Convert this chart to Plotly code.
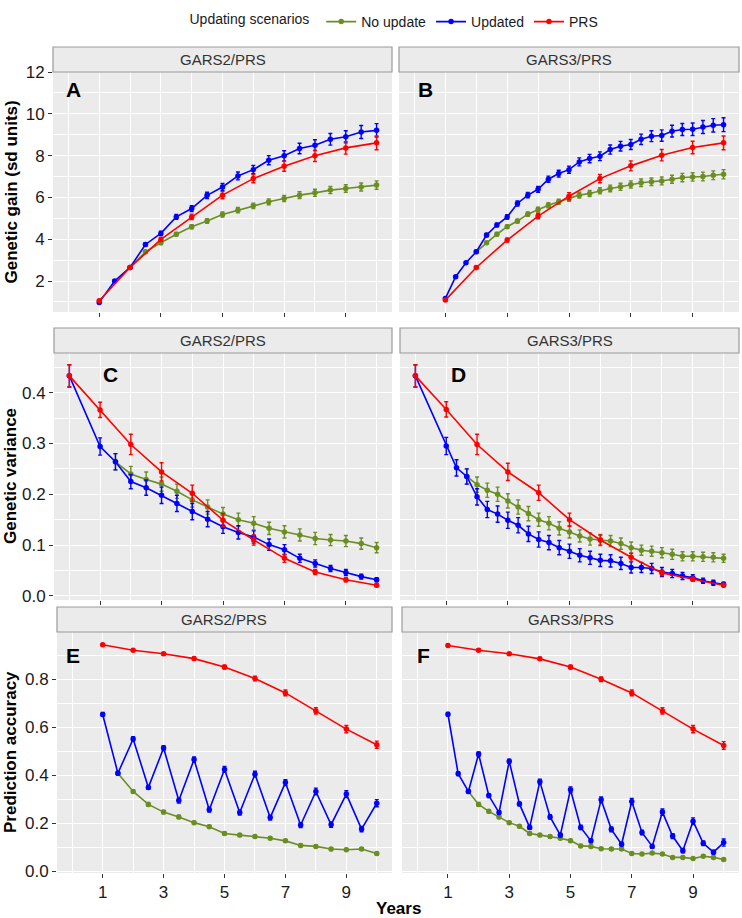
import plotly.graph_objects as go

W, H = 742, 918

# ---------------- data ----------------
YEARS = [1, 2, 3, 4, 5, 6, 7, 8, 9, 10]
YEARS0 = [0, 1, 2, 3, 4, 5, 6, 7, 8, 9, 10]
HALF = [1, 1.5, 2, 2.5, 3, 3.5, 4, 4.5, 5, 5.5, 6, 6.5, 7, 7.5, 8, 8.5, 9, 9.5, 10]
HALF0 = [0] + HALF
THIRD = [1, 1.333, 1.667, 2, 2.333, 2.667, 3, 3.333, 3.667, 4, 4.333, 4.667, 5, 5.333, 5.667,
         6, 6.333, 6.667, 7, 7.333, 7.667, 8, 8.333, 8.667, 9, 9.333, 9.667, 10]
THIRD0 = [0] + THIRD

# Panel A: GARS2/PRS genetic gain
A_upd = [0.98, 2.0, 2.65, 3.75, 4.28, 5.07, 5.47, 6.1, 6.5, 7.03, 7.33, 7.78, 7.99, 8.34, 8.5, 8.78, 8.9, 9.13, 9.21]
A_upd_err = [0.04, 0.05, 0.06, 0.08, 0.1, 0.12, 0.14, 0.15, 0.17, 0.19, 0.2, 0.22, 0.24, 0.25, 0.26, 0.28, 0.29, 0.31, 0.32]
A_no_x = HALF[2:]
A_no = [2.65, 3.4, 3.83, 4.24, 4.6, 4.87, 5.18, 5.39, 5.6, 5.79, 5.95, 6.11, 6.22, 6.35, 6.43, 6.5, 6.59]
A_no_err = [0.06, 0.07, 0.08, 0.09, 0.1, 0.11, 0.12, 0.13, 0.13, 0.14, 0.15, 0.16, 0.17, 0.17, 0.18, 0.19, 0.2]
A_prs = [1.06, 2.65, 3.99, 5.07, 6.11, 6.9, 7.49, 7.99, 8.37, 8.61]
A_prs_err = [0.04, 0.06, 0.09, 0.13, 0.17, 0.2, 0.24, 0.27, 0.3, 0.33]

# Panel B: GARS3/PRS genetic gain
B_upd = [1.17, 2.21, 2.88, 3.40, 4.20, 4.68, 5.07, 5.71, 6.11, 6.39, 6.87, 7.14, 7.33, 7.70, 7.86, 7.97,
         8.29, 8.45, 8.53, 8.78, 8.93, 8.96, 9.17, 9.25, 9.26, 9.37, 9.45, 9.48]
B_upd_err = [0.04, 0.05, 0.05, 0.06, 0.08, 0.09, 0.1, 0.12, 0.13, 0.14, 0.15, 0.16, 0.17, 0.19, 0.2, 0.21,
             0.22, 0.23, 0.24, 0.25, 0.26, 0.27, 0.28, 0.29, 0.3, 0.31, 0.32, 0.33]
B_no_x = THIRD[3:]
B_no = [3.40, 3.83, 4.24, 4.6, 4.87, 5.2, 5.42, 5.63, 5.79, 5.95, 6.11, 6.19, 6.32, 6.43, 6.51, 6.62,
        6.70, 6.75, 6.79, 6.87, 6.95, 6.98, 7.0, 7.06, 7.11]
B_no_err = [0.06, 0.07, 0.08, 0.08, 0.09, 0.1, 0.11, 0.12, 0.12, 0.13, 0.14, 0.15, 0.15, 0.16, 0.17, 0.17,
            0.18, 0.18, 0.19, 0.19, 0.2, 0.2, 0.21, 0.21, 0.22]
B_prs = [1.09, 2.65, 3.96, 5.11, 6.06, 6.9, 7.51, 8.02, 8.39, 8.61]
B_prs_err = [0.04, 0.06, 0.09, 0.13, 0.17, 0.2, 0.24, 0.27, 0.3, 0.33]

# Panel C: GARS2/PRS genetic variance
C_prs = [0.433, 0.366, 0.298, 0.244, 0.202, 0.149, 0.110, 0.074, 0.047, 0.032, 0.021]
C_prs_err = [0.022, 0.015, 0.02, 0.018, 0.016, 0.013, 0.01, 0.008, 0.005, 0.004, 0.003]
C_upd = [0.433, 0.294, 0.264, 0.225, 0.213, 0.198, 0.182, 0.166, 0.151, 0.136, 0.125, 0.116, 0.101, 0.091,
         0.074, 0.064, 0.054, 0.046, 0.038, 0.032]
C_upd_err = [0.022, 0.017, 0.016, 0.014, 0.015, 0.016, 0.016, 0.016, 0.015, 0.013, 0.013, 0.012, 0.011, 0.01,
             0.008, 0.007, 0.006, 0.006, 0.005, 0.004]
C_no_x = HALF[1:]
C_no = [0.264, 0.240, 0.229, 0.220, 0.206, 0.189, 0.175, 0.161, 0.150, 0.143, 0.133, 0.126, 0.120, 0.113,
        0.110, 0.108, 0.103, 0.095]
C_no_err = [0.016, 0.015, 0.015, 0.014, 0.014, 0.014, 0.014, 0.013, 0.013, 0.013, 0.012, 0.012, 0.012, 0.012,
            0.011, 0.011, 0.011, 0.01]

# Panel D: GARS3/PRS genetic variance
D_prs = [0.433, 0.367, 0.298, 0.244, 0.203, 0.150, 0.110, 0.076, 0.045, 0.033, 0.021]
D_prs_err = [0.022, 0.015, 0.02, 0.017, 0.015, 0.013, 0.01, 0.008, 0.005, 0.004, 0.003]
D_upd = [0.433, 0.295, 0.252, 0.235, 0.195, 0.170, 0.161, 0.149, 0.139, 0.122, 0.111, 0.105, 0.095, 0.088,
         0.080, 0.075, 0.070, 0.069, 0.064, 0.056, 0.056, 0.054, 0.047, 0.044, 0.039, 0.036, 0.030, 0.026, 0.023]
D_upd_err = [0.022, 0.017, 0.016, 0.015, 0.016, 0.016, 0.016, 0.016, 0.015, 0.015, 0.015, 0.014, 0.014, 0.014,
             0.013, 0.013, 0.012, 0.012, 0.012, 0.011, 0.01, 0.01, 0.009, 0.008, 0.007, 0.006, 0.005, 0.005, 0.004]
D_no_x = THIRD[2:]
D_no = [0.235, 0.219, 0.208, 0.200, 0.187, 0.175, 0.162, 0.150, 0.143, 0.133, 0.126, 0.118, 0.112, 0.110,
        0.108, 0.103, 0.095, 0.090, 0.088, 0.085, 0.082, 0.078, 0.078, 0.077, 0.076, 0.074]
D_no_err = [0.015, 0.015, 0.014, 0.014, 0.014, 0.014, 0.014, 0.013, 0.013, 0.013, 0.012, 0.012, 0.012, 0.011,
            0.011, 0.011, 0.011, 0.01, 0.01, 0.01, 0.01, 0.009, 0.009, 0.009, 0.009, 0.008]

# Panel E: GARS2/PRS prediction accuracy
E_prs = [0.944, 0.921, 0.906, 0.886, 0.851, 0.803, 0.743, 0.668, 0.592, 0.527]
E_prs_err = [0.004, 0.005, 0.005, 0.006, 0.008, 0.01, 0.012, 0.013, 0.015, 0.015]
E_upd = [0.653, 0.408, 0.551, 0.349, 0.513, 0.294, 0.465, 0.256, 0.424, 0.244, 0.404, 0.223, 0.369, 0.192,
         0.332, 0.194, 0.321, 0.175, 0.283]
E_upd_err = [0.008, 0.007, 0.009, 0.008, 0.01, 0.01, 0.011, 0.01, 0.012, 0.01, 0.012, 0.01, 0.012, 0.01,
             0.014, 0.011, 0.014, 0.011, 0.015]
E_no_x = HALF[1:]
E_no = [0.408, 0.332, 0.278, 0.246, 0.226, 0.202, 0.185, 0.157, 0.150, 0.144, 0.137, 0.126, 0.107, 0.103,
        0.092, 0.089, 0.092, 0.073]
E_no_err = [0.007, 0.007, 0.008, 0.007, 0.007, 0.006, 0.006, 0.006, 0.006, 0.006, 0.006, 0.006, 0.006, 0.005,
            0.006, 0.005, 0.005, 0.006]

# Panel F: GARS3/PRS prediction accuracy
F_prs = [0.941, 0.921, 0.906, 0.885, 0.851, 0.800, 0.743, 0.668, 0.592, 0.524]
F_prs_err = [0.004, 0.005, 0.005, 0.006, 0.008, 0.01, 0.012, 0.013, 0.015, 0.016]
F_upd = [0.654, 0.406, 0.332, 0.488, 0.315, 0.244, 0.458, 0.280, 0.182, 0.373, 0.226, 0.150, 0.339, 0.182,
         0.126, 0.297, 0.174, 0.112, 0.290, 0.161, 0.103, 0.246, 0.146, 0.085, 0.208, 0.116, 0.079, 0.119]
F_upd_err = [0.008, 0.008, 0.007, 0.009, 0.008, 0.007, 0.009, 0.008, 0.008, 0.01, 0.009, 0.008, 0.012, 0.009,
             0.008, 0.012, 0.01, 0.008, 0.013, 0.01, 0.008, 0.013, 0.01, 0.009, 0.014, 0.01, 0.008, 0.015]
F_no_x = THIRD[2:]
F_no = [0.332, 0.278, 0.249, 0.226, 0.202, 0.187, 0.157, 0.150, 0.144, 0.137, 0.127, 0.105, 0.103, 0.093,
        0.092, 0.092, 0.073, 0.071, 0.075, 0.071, 0.057, 0.057, 0.052, 0.062, 0.057, 0.048]
F_no_err = [0.007, 0.008, 0.007, 0.007, 0.006, 0.006, 0.006, 0.006, 0.006, 0.006, 0.006, 0.006, 0.006, 0.005,
            0.005, 0.005, 0.005, 0.005, 0.005, 0.005, 0.005, 0.005, 0.005, 0.005, 0.005, 0.005]

SCENARIOS = ["No update", "Updated", "PRS"]
COLORS = {"No update": "#6B8E23", "Updated": "#0000FF", "PRS": "#FF0000"}
STRIPS = ["GARS2/PRS", "GARS3/PRS"]
LETTERS = ["A", "B", "C", "D", "E", "F"]
YTITLES = ["Genetic gain (sd units)", "Genetic variance", "Prediction accuracy"]
XTITLE = "Years"
XTICKS = [1, 3, 5, 7, 9]

panels = [
    [(A_no_x, A_no, A_no_err), (HALF, A_upd, A_upd_err), (YEARS, A_prs, A_prs_err)],
    [(B_no_x, B_no, B_no_err), (THIRD, B_upd, B_upd_err), (YEARS, B_prs, B_prs_err)],
    [(C_no_x, C_no, C_no_err), (HALF0, C_upd, C_upd_err), (YEARS0, C_prs, C_prs_err)],
    [(D_no_x, D_no, D_no_err), (THIRD0, D_upd, D_upd_err), (YEARS0, D_prs, D_prs_err)],
    [(E_no_x, E_no, E_no_err), (HALF, E_upd, E_upd_err), (YEARS, E_prs, E_prs_err)],
    [(F_no_x, F_no, F_no_err), (THIRD, F_upd, F_upd_err), (YEARS, F_prs, F_prs_err)],
]

# ---------------- layout geometry (pixels) ----------------
rows_y = [(72, 312), (353, 600), (632, 873)]
strip_y = [(47, 72), (328, 353), (607, 632)]
cols_x = [[(53, 392), (399, 739)], [(54, 392), (400, 739)], [(57, 392), (402, 739)]]
yranges = [[0.52, 12.0], [-0.008, 0.478], [-0.008, 0.997]]
yticks = [
    ([2, 4, 6, 8, 10, 12], ["2", "4", "6", "8", "10", "12"], [1, 3, 5, 7, 9, 11]),
    ([0, 0.1, 0.2, 0.3, 0.4], ["0.0", "0.1", "0.2", "0.3", "0.4"], [0.05, 0.15, 0.25, 0.35, 0.45]),
    ([0, 0.2, 0.4, 0.6, 0.8], ["0.0", "0.2", "0.4", "0.6", "0.8"], [0.1, 0.3, 0.5, 0.7, 0.9]),
]

FONT = "Liberation Sans, Arial, Helvetica, sans-serif"
fig = go.Figure()
layout = dict(
    width=W, height=H, margin=dict(l=0, r=0, t=0, b=0),
    paper_bgcolor="white", plot_bgcolor="#EBEBEB",
    font=dict(family=FONT, color="#1a1a1a"),
    showlegend=True,
    legend=dict(orientation="h", x=0.533, xanchor="center", y=1 - 6 / H, yanchor="top",
                title=dict(text="Updating scenarios ", side="left", font=dict(size=14)),
                font=dict(size=14), itemwidth=30, bgcolor="rgba(0,0,0,0)",
                tracegroupgap=0, entrywidth=0),
)
shapes, annotations = [], []

for i in range(6):
    r, c = divmod(i, 2)
    n = i + 1
    xname = "xaxis" if n == 1 else f"xaxis{n}"
    yname = "yaxis" if n == 1 else f"yaxis{n}"
    xref = "x" if n == 1 else f"x{n}"
    yref = "y" if n == 1 else f"y{n}"
    x0, x1 = cols_x[r][c]
    y0, y1 = rows_y[r]
    layout[xname] = dict(
        domain=[x0 / W, x1 / W], anchor=yref, range=[-0.5, 10.5],
        tickmode="array", tickvals=XTICKS, ticktext=[str(t) for t in XTICKS],
        showticklabels=(r == 2), ticks="outside", ticklen=4, tickwidth=1, tickcolor="#333333",
        tickfont=dict(size=17, color="#1a1a1a"),
        showgrid=True, gridcolor="white", gridwidth=1.3,
        minor=dict(tickmode="array", tickvals=[0, 2, 4, 6, 8, 10], showgrid=True,
                   gridcolor="white", gridwidth=0.6, ticks=""),
        zeroline=False, showline=False, automargin=False, fixedrange=True,
    )
    tv, tt, mv = yticks[r]
    layout[yname] = dict(
        domain=[1 - y1 / H, 1 - y0 / H], anchor=xref, range=yranges[r],
        tickmode="array", tickvals=tv, ticktext=tt,
        showticklabels=(c == 0), ticks="outside" if c == 0 else "", ticklen=4, tickwidth=1,
        tickcolor="#333333", tickfont=dict(size=17, color="#1a1a1a"),
        showgrid=True, gridcolor="white", gridwidth=1.3,
        minor=dict(tickmode="array", tickvals=mv, showgrid=True, gridcolor="white",
                   gridwidth=0.6, ticks=""),
        zeroline=False, showline=False, automargin=False, fixedrange=True,
    )
    sy0, sy1 = strip_y[r]
    shapes.append(dict(type="rect", xref="paper", yref="paper",
                       x0=x0 / W, x1=x1 / W, y0=1 - sy1 / H, y1=1 - sy0 / H,
                       fillcolor="#EBEBEB", line=dict(color="#9A9A9A", width=1.2), layer="above"))
    annotations.append(dict(text=STRIPS[c], xref="paper", yref="paper",
                            x=(x0 + x1) / 2 / W, y=1 - (sy0 + sy1) / 2 / H,
                            xanchor="center", yanchor="middle", showarrow=False,
                            font=dict(size=15, color="#333333")))
    for k, name in enumerate(SCENARIOS):
        xs, ys, es = panels[i][k]
        fig.add_trace(go.Scatter(
            x=xs, y=ys, mode="lines+markers", name=name, legendgroup=name,
            showlegend=(i == 0), xaxis=xref, yaxis=yref, cliponaxis=False,
            line=dict(color=COLORS[name], width=1.6),
            marker=dict(color=COLORS[name], size=5.5),
            error_y=dict(type="data", array=es, visible=True, color=COLORS[name],
                         thickness=1.4, width=2),
        ))

letter_pos = [(73, 89), (425, 89), (110, 374), (458, 374), (73, 655), (423, 655)]
for L, (lx, ly) in zip(LETTERS, letter_pos):
    annotations.append(dict(text=f"<b>{L}</b>", xref="paper", yref="paper",
                            x=lx / W, y=1 - ly / H, xanchor="center", yanchor="middle",
                            showarrow=False, font=dict(size=21, color="black")))

for t, (ry0, ry1) in zip(YTITLES, rows_y):
    annotations.append(dict(text=f"<b>{t}</b>", xref="paper", yref="paper",
                            x=10.5 / W, y=1 - (ry0 + ry1) / 2 / H, textangle=-90,
                            xanchor="center", yanchor="middle", showarrow=False,
                            font=dict(size=17, color="black")))
annotations.append(dict(text=f"<b>{XTITLE}</b>", xref="paper", yref="paper",
                        x=398 / W, y=1 - 908 / H, xanchor="center", yanchor="middle",
                        showarrow=False, font=dict(size=17, color="black")))

layout["shapes"] = shapes
layout["annotations"] = annotations
fig.update_layout(**layout)
fig.write_html("out.html", config={"displayModeBar": False},
               post_script="document.body.style.margin='0px';document.body.style.overflow='hidden';")
